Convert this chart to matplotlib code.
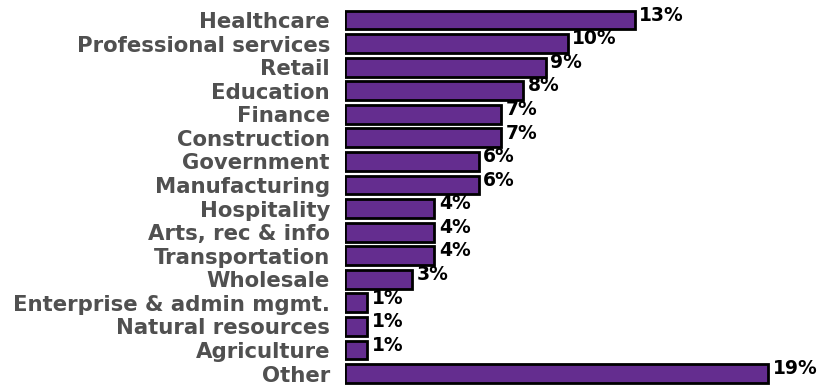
import matplotlib.pyplot as plt

industries = ["Healthcare", "Professional services", "Retail", "Education", "Finance",
              "Construction", "Government", "Manufacturing", "Hospitality",
              "Arts, rec & info", "Transportation", "Wholesale",
              "Enterprise & admin mgmt.", "Natural resources", "Agriculture", "Other"]
shares = [13, 10, 9, 8, 7, 7, 6, 6, 4, 4, 4, 3, 1, 1, 1, 19]

fig = plt.figure(figsize=(8.18, 3.87), dpi=100)
ax = fig.add_axes([0.422, 0.0044, 0.558, 0.9744])

pos = range(len(industries))
ax.barh(pos, shares, height=0.8, color="#642d8f", edgecolor="black", linewidth=2)

# value labels sit just past the bar end, a bit above centre
for y, v in zip(pos, shares):
    ax.text(v + 0.2, y - 0.2, f"{v}%", va="center", ha="left",
            fontsize=13.5, fontweight="bold", color="black")

ax.set_yticks(list(pos))
ax.set_yticklabels(industries, fontsize=15.3, fontweight="bold", color="#505050")
ax.tick_params(axis="y", length=0, pad=11)
ax.set_xticks([])
ax.set_xlim(0, 20.5)
ax.set_ylim(15.5, -0.5)
for s in ax.spines.values():
    s.set_visible(False)

fig.savefig("out.png", dpi=100)
